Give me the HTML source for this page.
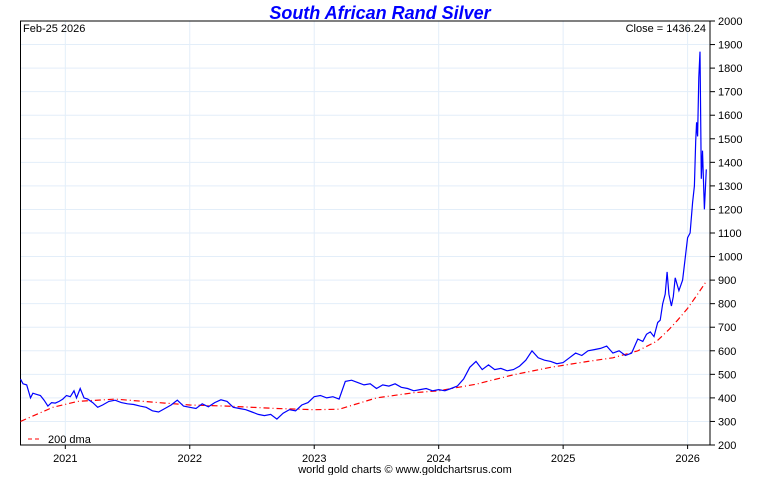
<!DOCTYPE html>
<html><head><meta charset="utf-8"><style>
body{margin:0;background:#fff;font-family:"Liberation Sans",sans-serif}
svg text{font-family:"Liberation Sans",sans-serif}
</style></head><body>
<svg id="c" width="760" height="475" xmlns="http://www.w3.org/2000/svg">
<text x="380" y="19" text-anchor="middle" font-size="18" font-weight="bold" font-style="italic" fill="#0000ff">South African Rand Silver</text>
<g id="grid"></g>
<g id="axes"></g>
<path id="ma" fill="none" stroke="#ff0000" stroke-width="1.2" stroke-dasharray="6,3,1,3"/>
<path id="price" fill="none" stroke="#0000ff" stroke-width="1.2"/>
<text x="23" y="32" font-size="11">Feb-25  2026</text>
<text x="706" y="32" font-size="11" text-anchor="end">Close = 1436.24</text>
<line x1="28" y1="439" x2="42" y2="439" stroke="#ff0000" stroke-dasharray="4,3"/>
<text x="48" y="443" font-size="11">200 dma</text>
<text x="405" y="473" font-size="11" text-anchor="middle">world gold charts © www.goldchartsrus.com</text>
</svg>
<script>
const yearTicks=[2021,2022,2023,2024,2025,2026];
const valueTicks=[200,300,400,500,600,700,800,900,1000,1100,1200,1300,1400,1500,1600,1700,1800,1900,2000];
const priceDates=[2020.64,2020.66,2020.69,2020.72,2020.74,2020.77,2020.8,2020.83,2020.86,2020.89,2020.92,2020.95,2020.98,2021.01,2021.04,2021.07,2021.09,2021.12,2021.15,2021.18,2021.22,2021.26,2021.3,2021.35,2021.4,2021.45,2021.5,2021.55,2021.6,2021.65,2021.7,2021.75,2021.8,2021.85,2021.9,2021.95,2022.0,2022.05,2022.1,2022.15,2022.2,2022.25,2022.3,2022.35,2022.4,2022.45,2022.5,2022.55,2022.6,2022.65,2022.7,2022.75,2022.8,2022.85,2022.9,2022.95,2023.0,2023.05,2023.1,2023.15,2023.2,2023.25,2023.3,2023.35,2023.4,2023.45,2023.5,2023.55,2023.6,2023.65,2023.7,2023.75,2023.8,2023.85,2023.9,2023.95,2024.0,2024.05,2024.1,2024.15,2024.2,2024.25,2024.3,2024.35,2024.4,2024.45,2024.5,2024.55,2024.6,2024.65,2024.7,2024.75,2024.8,2024.85,2024.9,2024.95,2025.0,2025.05,2025.1,2025.15,2025.2,2025.25,2025.3,2025.35,2025.4,2025.45,2025.5,2025.55,2025.6,2025.64,2025.67,2025.7,2025.73,2025.76,2025.78,2025.8,2025.82,2025.835,2025.85,2025.87,2025.885,2025.9,2025.93,2025.96,2025.98,2026.0,2026.02,2026.04,2026.055,2026.065,2026.072,2026.08,2026.09,2026.1,2026.11,2026.12,2026.135,2026.15];
const priceValues=[480,460,455,400,420,415,410,390,365,380,378,385,395,410,405,430,400,440,400,395,380,360,370,385,390,380,375,372,365,360,345,340,355,370,390,365,360,355,375,362,380,392,385,360,355,350,340,330,325,330,310,335,350,345,370,380,405,410,400,405,395,470,475,465,455,460,440,455,450,460,445,440,430,435,440,430,435,430,440,450,480,530,555,520,540,520,525,515,520,535,560,600,570,560,555,545,550,570,590,580,600,605,610,620,590,600,580,590,650,640,670,680,660,720,730,800,840,935,840,790,830,910,855,900,990,1080,1100,1230,1300,1490,1570,1510,1760,1870,1330,1450,1200,1370,1200,1436];
const maDates=[2020.64,2020.9,2021.1,2021.4,2021.8,2022.0,2022.3,2022.7,2023.0,2023.2,2023.5,2023.8,2024.0,2024.3,2024.6,2024.9,2025.2,2025.4,2025.6,2025.75,2025.85,2025.92,2026.0,2026.08,2026.15];
const maValues=[300,360,385,395,378,370,365,355,350,352,400,422,430,458,498,530,555,570,600,640,690,730,780,840,895];
const L=20.5,R=710,T=21,B=445,X0=2020.64,X1=2026.18,V0=200,V1=2000;
const xs=d=>L+(d-X0)/(X1-X0)*(R-L);
const ys=v=>B-(v-V0)/(V1-V0)*(B-T);
const NS='http://www.w3.org/2000/svg';
const grid=document.getElementById('grid'),axes=document.getElementById('axes');
function mk(t,a,p){const e=document.createElementNS(NS,t);for(const k in a)e.setAttribute(k,a[k]);p.appendChild(e);return e;}
valueTicks.forEach(v=>{
 const g=mk('line',{x1:L,x2:R,y1:ys(v),y2:ys(v),stroke:'#e3eef9'},grid);
 
 
 const tk=mk('line',{x1:R,x2:R+5,y1:ys(v),y2:ys(v),stroke:'#000'},axes);
 
 
 const t=mk('text',{x:R+8,y:ys(v)+4,'font-size':11},axes);t.textContent=v;
 
 
});
yearTicks.forEach(y=>{
 const g=mk('line',{x1:xs(y),x2:xs(y),y1:T,y2:B,stroke:'#e3eef9'},grid);
 
 
 const tk=mk('line',{x1:xs(y),x2:xs(y),y1:B,y2:B+4,stroke:'#000'},axes);
 
 
 const t=mk('text',{x:xs(y),y:B+17,'font-size':11,'text-anchor':'middle'},axes);t.textContent=y;
 
 
});
const fr=mk('rect',{x:L,y:T,width:R-L,height:B-T,fill:'none',stroke:'#000'},axes);


const path=(ds,vs)=>ds.map((d,i)=>(i?'L':'M')+xs(d).toFixed(1)+','+ys(vs[i]).toFixed(1)).join('');
document.getElementById('price').setAttribute('d',path(priceDates,priceValues));
document.getElementById('ma').setAttribute('d',path(maDates,maValues));
</script>
</body></html>
